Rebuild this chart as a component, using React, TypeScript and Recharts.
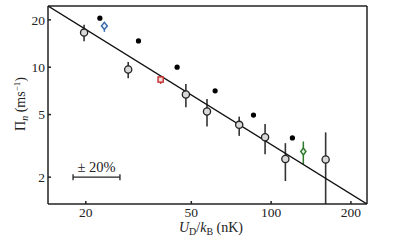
import React from 'react';
import { ScatterChart, Scatter, XAxis, YAxis, ErrorBar, Label } from 'recharts';

// open circles (measured, with error bars)
const uOpen = [19.7, 28.9, 47.7, 57.3, 75.8, 94.9, 113.2, 160.6];
const piOpen = [16.6, 9.66, 6.7, 5.23, 4.3, 3.59, 2.61, 2.59];
const loOpen = [14.6, 8.5, 5.57, 4.2, 3.66, 2.8, 1.89, 1.35];
const hiOpen = [18.6, 10.8, 7.83, 6.27, 4.85, 4.35, 3.29, 3.85];

// filled black dots
const uDot = [22.6, 31.6, 44.2, 61.5, 85.8, 120.3];
const piDot = [20.5, 14.7, 10.0, 7.08, 4.96, 3.55];

// single coloured points: [u, pi, lo, hi]
const bluePt = [23.5, 18.3, 16.8, 19.4];
const redPt = [38.3, 8.35, 7.83, 8.77];
const greenPt = [132.3, 2.91, 2.42, 3.37];

// fit line end points
const fitU = [14.4, 230];
const fitPi = [24.5, 1.35];

// +-20% scale bar
const barU = [17.9, 26.9];
const barPi = 2;

const xTicks = [20, 50, 100, 200];
const yTicks = [2, 5, 10, 20];
const xDomain = [14.4, 230];
const yDomain = [1.35, 24.5];

const FONT = '"Liberation Serif", "DejaVu Serif", serif';
const INK = '#222';

const withErr = (u: number, p: number, lo: number, hi: number) => ({ u, p, err: [p - lo, hi - p] });

const openData = uOpen.map((u, i) => withErr(u, piOpen[i], loOpen[i], hiOpen[i]));
const dotData = uDot.map((u, i) => ({ u, p: piDot[i] }));
const blueData = [withErr(bluePt[0], bluePt[1], bluePt[2], bluePt[3])];
const redData = [withErr(redPt[0], redPt[1], redPt[2], redPt[3])];
const greenData = [withErr(greenPt[0], greenPt[1], greenPt[2], greenPt[3])];
const fitData = fitU.map((u, i) => ({ u, p: fitPi[i] }));
const barData = barU.map((u) => ({ u, p: barPi }));
const barLabel = [{ u: Math.sqrt(barU[0] * barU[1]), p: barPi }];

const diamond = (cx: number, cy: number, w: number, h: number) =>
  `${cx},${cy - h} ${cx + w},${cy} ${cx},${cy + h} ${cx - w},${cy}`;

export default function App() {
  const tickStyle = { fontSize: 13.5, fill: INK, fontFamily: FONT };
  return (
    <div style={{ position: 'absolute', left: 0, top: 0, background: '#fff' }}>
      <ScatterChart width={415} height={242} margin={{ top: 0, right: 0, bottom: 0, left: 0 }}>
        <XAxis
          dataKey="u"
          type="number"
          scale="log"
          domain={xDomain}
          allowDataOverflow
          ticks={xTicks}
          height={38}
          tickSize={-3}
          tickMargin={6}
          stroke={INK}
          strokeWidth={1.5}
          tick={tickStyle}
        >
          <Label
            content={() => (
              <text x={211} y={232} textAnchor="middle" fontSize={14} fontFamily={FONT} fill={INK}>
                <tspan fontStyle="italic">U</tspan>
                <tspan fontSize={10} dy={3}>D</tspan>
                <tspan dy={-3}>/</tspan>
                <tspan fontStyle="italic">k</tspan>
                <tspan fontSize={10} dy={3}>B</tspan>
                <tspan dy={-3}>{'\u00a0(nK)'}</tspan>
              </text>
            )}
          />
        </XAxis>
        <XAxis
          xAxisId="top"
          orientation="top"
          dataKey="u"
          type="number"
          scale="log"
          domain={xDomain}
          allowDataOverflow
          ticks={xTicks}
          height={6}
          tickSize={-3}
          stroke={INK}
          strokeWidth={1.5}
          tick={false}
        />
        <YAxis
          dataKey="p"
          type="number"
          scale="log"
          domain={yDomain}
          allowDataOverflow
          ticks={yTicks}
          width={48}
          tickSize={-3}
          tickMargin={6}
          stroke={INK}
          strokeWidth={1.5}
          tick={tickStyle}
        >
          <Label
            content={() => (
              <text transform="translate(25,104) rotate(-90)" textAnchor="middle" fontSize={14} fontFamily={FONT} fill={INK}>
                {'\u03a0'}
                <tspan fontStyle="italic" fontSize={10} dy={3}>n</tspan>
                <tspan dy={-3}>{'\u00a0(ms'}</tspan>
                <tspan fontSize={9} dy={-5}>{'\u22121'}</tspan>
                <tspan dy={5}>)</tspan>
              </text>
            )}
          />
        </YAxis>
        <YAxis
          yAxisId="right"
          orientation="right"
          dataKey="p"
          type="number"
          scale="log"
          domain={yDomain}
          allowDataOverflow
          ticks={yTicks}
          width={48}
          tickSize={-3}
          stroke={INK}
          strokeWidth={1.5}
          tick={false}
        />

        <Scatter
          data={fitData}
          line={{ stroke: '#111', strokeWidth: 1.4 }}
          shape={() => <g />}
          isAnimationActive={false}
        />

        <Scatter
          data={barData}
          line={{ stroke: INK, strokeWidth: 1.3 }}
          shape={(p: any) => <line x1={p.cx} x2={p.cx} y1={p.cy - 3} y2={p.cy + 3} stroke={INK} strokeWidth={1.3} />}
          isAnimationActive={false}
        />
        <Scatter
          data={barLabel}
          shape={(p: any) => (
            <text x={p.cx} y={p.cy - 5} textAnchor="middle" fontSize={14.5} fontFamily={FONT} fill={INK}>
              ± 20%
            </text>
          )}
          isAnimationActive={false}
        />

        <Scatter
          data={dotData}
          shape={(p: any) => <circle cx={p.cx} cy={p.cy} r={2.6} fill="#000" />}
          isAnimationActive={false}
        />

        <Scatter
          data={openData}
          shape={(p: any) => <circle cx={p.cx} cy={p.cy} r={3.6} fill="#d9d9d9" stroke={INK} strokeWidth={1.3} />}
          isAnimationActive={false}
        >
          <ErrorBar dataKey="err" direction="y" width={0} stroke="#333" strokeWidth={1.6} isAnimationActive={false} />
        </Scatter>

        <Scatter
          data={blueData}
          shape={(p: any) => <polygon points={diamond(p.cx, p.cy, 3, 3.6)} fill="#e8eef8" stroke="#3568a8" strokeWidth={1.4} />}
          isAnimationActive={false}
        >
          <ErrorBar dataKey="err" direction="y" width={0} stroke="#3568a8" strokeWidth={1.5} isAnimationActive={false} />
        </Scatter>

        <Scatter
          data={redData}
          shape={(p: any) => <rect x={p.cx - 2.6} y={p.cy - 2.6} width={5.2} height={5.2} fill="#f6dede" stroke="#c62f2f" strokeWidth={1.4} />}
          isAnimationActive={false}
        >
          <ErrorBar dataKey="err" direction="y" width={0} stroke="#c62f2f" strokeWidth={1.5} isAnimationActive={false} />
        </Scatter>

        <Scatter
          data={greenData}
          shape={(p: any) => <polygon points={diamond(p.cx, p.cy, 2.6, 3.5)} fill="#e6f2e6" stroke="#2d7a2d" strokeWidth={1.4} />}
          isAnimationActive={false}
        >
          <ErrorBar dataKey="err" direction="y" width={0} stroke="#2d7a2d" strokeWidth={1.5} isAnimationActive={false} />
        </Scatter>
      </ScatterChart>
    </div>
  );
}
